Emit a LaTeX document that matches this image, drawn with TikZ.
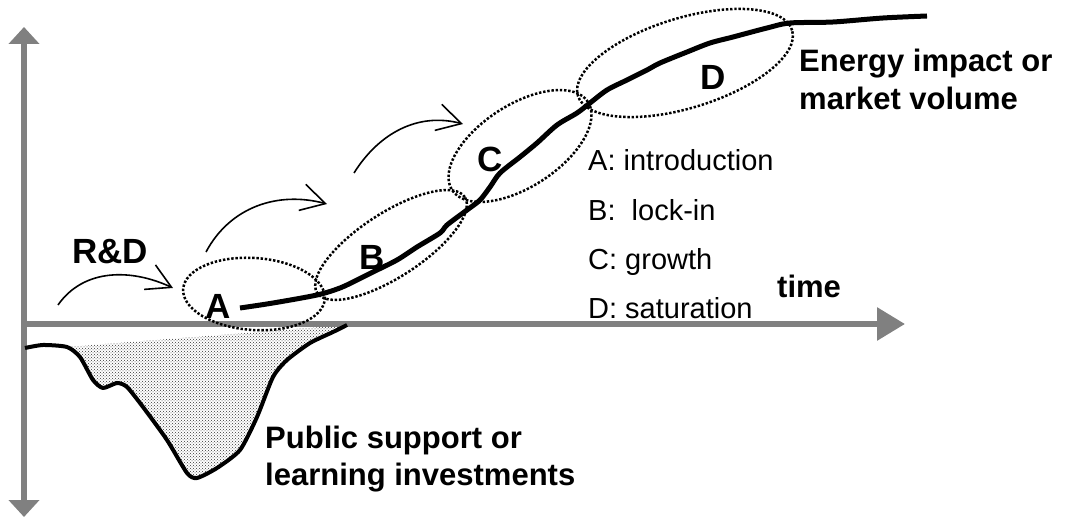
\documentclass[tikz,border=0pt]{standalone}
\usepackage{fontspec}
\setmainfont{Liberation Sans}
\usetikzlibrary{arrows.meta,patterns}

\begin{document}
\begin{tikzpicture}[x=1pt,y=1pt]
\tikzstyle{every node}+=[inner sep=0pt]
\tikzstyle{axisline}=[draw=gray, line width=6pt]
\tikzstyle{phase}=[black, line width=2.5pt, dash pattern=on 2.4pt off 1.8pt]
\tikzstyle{push}=[black, line width=1.6pt, -{Straight Barb[length=24pt,width=27pt]}]
\tikzstyle{phasetxt}=[font=\fontsize{35}{40}\selectfont\bfseries]
\tikzstyle{headtxt}=[font=\fontsize{31}{37}\selectfont\bfseries]
\tikzstyle{legendtxt}=[font=\fontsize{29}{35}\selectfont]
\useasboundingbox (0,0) rectangle (1065,-518);
\coordinate (orig) at (24,-324);
\coordinate (ytop) at (24,-27);
\coordinate (ybot) at (24,-517);
\coordinate (xend) at (905,-324);
\fill [pattern=crosshatch dots, pattern color=black!80] plot [smooth, tension=0.4] coordinates {(67,-347) (80,-357) (93,-380) (103,-388) (117,-383) (127,-387) (143,-407) (167,-440) (187,-473) (197,-478) (217,-468) (240,-450) (257,-417) (273,-377) (287,-360) (310,-343) (333,-332) (347,-325)} -- cycle;
\draw [axisline, {Triangle[length=17pt,width=30pt]}-{Triangle[length=17pt,width=30pt]}] (ybot) -- (ytop);
\draw [axisline, -{Triangle[length=28pt,width=32pt]}] (orig) -- (xend);
\draw [black, line width=4pt, line join=round] plot [smooth, tension=0.4] coordinates {(25,-348) (43,-345) (67,-347) (80,-357) (93,-380) (103,-388) (117,-383) (127,-387) (143,-407) (167,-440) (187,-473) (197,-478) (217,-468) (240,-450) (257,-417) (273,-377) (287,-360) (310,-343) (333,-332) (347,-325)};
\draw [black, line width=5pt, line join=round] plot [smooth, tension=0.5] coordinates {(240,-308) (273,-303) (317,-295) (340,-288) (357,-280) (373,-272) (397,-260) (417,-247) (440,-233) (447,-225) (467,-210) (480,-200) (490,-187) (500,-173) (520,-157) (537,-143) (557,-125) (577,-113) (590,-103) (607,-90) (627,-80) (647,-70) (660,-63) (687,-52) (710,-43) (733,-37) (767,-28) (790,-23) (833,-22) (883,-18) (927,-16)};
\draw [phase, rotate around={-4:(254,-294)}] (254,-294) ellipse (71pt and 36pt);
\draw [phase, rotate around={33:(391,-245)}] (391,-245) ellipse (88pt and 32pt);
\draw [phase, rotate around={33:(520,-146)}] (520,-146) ellipse (81pt and 41pt);
\draw [phase, rotate around={17:(685,-63)}] (685,-63) ellipse (112pt and 45pt);
\coordinate (rd0) at (58,-305);
\coordinate (rd1) at (173,-288);
\coordinate (ab0) at (206,-252);
\coordinate (ab1) at (327,-204);
\coordinate (bc0) at (354,-173);
\coordinate (bc1) at (463,-124);
\draw [push] (rd0) to[out=55,in=155] (rd1);
\draw [push] (ab0) to[out=62,in=165] (ab1);
\draw [push] (bc0) to[out=58,in=165] (bc1);
\draw (218,-319) node [phasetxt, anchor=base] (lblA) {A};
\draw (372,-270) node [phasetxt, anchor=base] (lblB) {B};
\draw (490,-172) node [phasetxt, anchor=base] (lblC) {C};
\draw (713,-90) node [phasetxt, anchor=base] (lblD) {D};
\draw (72,-264) node [phasetxt, anchor=base west] (rnd) {R\&D};
\draw (799,-72) node [headtxt, anchor=base west] (energy1) {Energy impact or};
\draw (799,-110) node [headtxt, anchor=base west] (energy2) {market volume};
\draw (777,-298) node [headtxt, anchor=base west] (timelbl) {time};
\draw (265,-448) node [headtxt, anchor=base west] (public1) {Public support or};
\draw (265,-485) node [headtxt, anchor=base west] (public2) {learning investments};
\draw (588,-171) node [legendtxt, anchor=base west] (legA) {A: introduction};
\draw (588,-221) node [legendtxt, anchor=base west] (legB) {B:\ \ lock-in};
\draw (588,-270) node [legendtxt, anchor=base west] (legC) {C: growth};
\draw (588,-319) node [legendtxt, anchor=base west] (legD) {D: saturation};
\end{tikzpicture}
\end{document}
